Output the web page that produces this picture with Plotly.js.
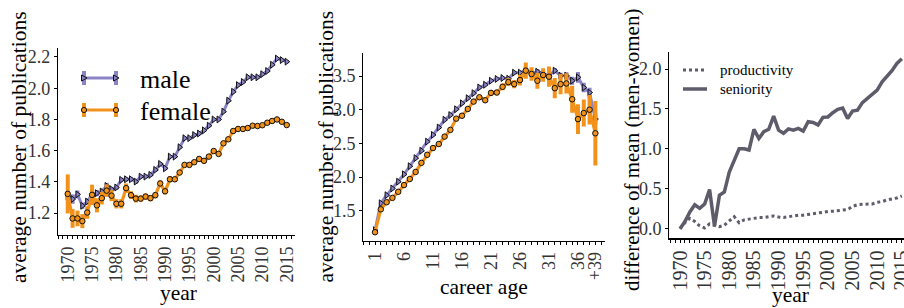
<!DOCTYPE html>
<html><head><meta charset="utf-8">
<script src="https://cdn.plot.ly/plotly-3.0.1.min.js"></script>
<style>html,body{margin:0;padding:0;background:#fff}#chart{width:904px;height:308px}</style>
</head><body><div id="chart"></div>
<script>
// ---------- data ----------
const years = [1970,1971,1972,1973,1974,1975,1976,1977,1978,1979,1980,1981,1982,1983,1984,1985,1986,1987,1988,1989,1990,1991,1992,1993,1994,1995,1996,1997,1998,1999,2000,2001,2002,2003,2004,2005,2006,2007,2008,2009,2010,2011,2012,2013,2014,2015];
const maleByYear = [1.306,1.29,1.32,1.247,1.274,1.32,1.328,1.338,1.374,1.353,1.364,1.413,1.417,1.417,1.402,1.434,1.434,1.445,1.477,1.515,1.487,1.562,1.562,1.622,1.68,1.68,1.70,1.71,1.73,1.76,1.80,1.80,1.85,1.92,1.977,2.02,2.04,2.07,2.07,2.07,2.09,2.11,2.15,2.19,2.18,2.17];
const maleByYearErr = [0.025,0.03,0.025,0.02,0.02,0.02,0.02,0.02,0.02,0.015,0.015,0.015,0.015,0.015,0.015,0.012,0.012,0.012,0.012,0.012,0.012,0.01,0.01,0.01,0.01,0.01,0.01,0.01,0.01,0.01,0.01,0.01,0.01,0.01,0.01,0.01,0.01,0.01,0.01,0.01,0.01,0.01,0.01,0.01,0.01,0.01];
const femaleByYear = [1.323,1.166,1.166,1.149,1.204,1.317,1.25,1.296,1.344,1.312,1.26,1.26,1.36,1.315,1.293,1.293,1.306,1.296,1.315,1.39,1.34,1.417,1.417,1.46,1.509,1.509,1.526,1.547,1.535,1.562,1.598,1.579,1.647,1.673,1.726,1.739,1.739,1.745,1.76,1.758,1.763,1.779,1.79,1.80,1.785,1.764];
const femaleByYearErr = [0.125,0.06,0.05,0.045,0.04,0.065,0.045,0.04,0.04,0.035,0.03,0.03,0.03,0.025,0.025,0.02,0.02,0.02,0.02,0.02,0.02,0.02,0.015,0.015,0.015,0.015,0.015,0.015,0.015,0.015,0.012,0.012,0.012,0.012,0.01,0.01,0.01,0.01,0.01,0.01,0.01,0.01,0.01,0.01,0.01,0.01];

const careerAge = [1,2,3,4,5,6,7,8,9,10,11,12,13,14,15,16,17,18,19,20,21,22,23,24,25,26,27,28,29,30,31,32,33,34,35,36,37,38,39];
const careerTickVals = [1,6,11,16,21,26,31,36,39];
const careerTickText = ['1','6','11','16','21','26','31','36','+39'];
const maleByCareer = [1.21,1.61,1.73,1.83,1.93,2.04,2.16,2.28,2.39,2.525,2.625,2.735,2.85,2.92,3.006,3.095,3.17,3.245,3.33,3.37,3.43,3.457,3.47,3.46,3.55,3.55,3.58,3.54,3.565,3.53,3.51,3.58,3.505,3.505,3.43,3.48,3.33,3.255,2.86];
const maleByCareerErr = [0.01,0.01,0.01,0.01,0.01,0.01,0.01,0.01,0.01,0.01,0.01,0.01,0.01,0.01,0.01,0.012,0.012,0.015,0.015,0.015,0.02,0.02,0.02,0.025,0.025,0.025,0.03,0.03,0.04,0.04,0.04,0.04,0.045,0.05,0.06,0.08,0.07,0.07,0.08];
const femaleByCareer = [1.18,1.52,1.625,1.69,1.78,1.88,1.97,2.075,2.21,2.33,2.43,2.49,2.60,2.70,2.867,2.91,3.01,3.12,3.185,3.14,3.25,3.255,3.34,3.41,3.38,3.44,3.58,3.53,3.43,3.515,3.49,3.32,3.38,3.39,3.155,2.86,2.95,3.0,2.65];
const femaleByCareerErr = [0.02,0.02,0.02,0.02,0.02,0.02,0.02,0.02,0.02,0.02,0.02,0.02,0.02,0.02,0.02,0.03,0.03,0.03,0.03,0.03,0.04,0.04,0.05,0.06,0.06,0.08,0.12,0.1,0.12,0.1,0.15,0.15,0.15,0.15,0.2,0.22,0.2,0.22,0.48];

const productivityDiff = [0.0,0.075,0.13,0.09,0.035,0.01,0.06,0.045,0.025,0.045,0.10,0.15,0.075,0.11,0.12,0.13,0.14,0.14,0.15,0.16,0.146,0.14,0.15,0.16,0.17,0.17,0.18,0.19,0.2,0.21,0.215,0.22,0.225,0.234,0.24,0.28,0.3,0.305,0.305,0.31,0.33,0.34,0.36,0.375,0.385,0.41];
const seniorityDiff = [0.0,0.09,0.21,0.30,0.255,0.31,0.49,0.03,0.42,0.46,0.71,0.86,1.0,1.0,0.985,1.245,1.13,1.215,1.245,1.41,1.235,1.195,1.25,1.235,1.257,1.223,1.34,1.33,1.30,1.395,1.40,1.453,1.495,1.51,1.38,1.474,1.485,1.58,1.633,1.675,1.737,1.84,1.905,1.98,2.07,2.13];

const seriesNames = ['male','female'];
const diffNames = ['productivity','seniority'];
const axisTitles = ['year','average number of publications','career age','average number of publications','year','difference of mean (men-women)'];

// ---------- style ----------
const F = '"Liberation Serif", "Times New Roman", Times, serif';
const PURPLE = '#8a84c6', ORANGE = '#f2921a', GREY = '#5e5c6a';
const W = 904, H = 308;
const px = v => v / W, py = v => 1 - v / H;

function genderTraces(x, m, me, f, fe, xa, ya) {
  return [
    {x, y: m, xaxis: xa, yaxis: ya, type: 'scatter', mode: 'lines+markers', name: seriesNames[0],
     line: {color: PURPLE, width: 3},
     marker: {symbol: 'triangle-right', size: 6, color: PURPLE, line: {color: '#111', width: 1}},
     error_y: {type: 'data', array: me, visible: true, color: PURPLE, thickness: 4, width: 0}},
    {x, y: f, xaxis: xa, yaxis: ya, type: 'scatter', mode: 'lines+markers', name: seriesNames[1],
     line: {color: ORANGE, width: 3.2},
     marker: {symbol: 'circle', size: 5.5, color: ORANGE, line: {color: '#111', width: 1}},
     error_y: {type: 'data', array: fe, visible: true, color: ORANGE, thickness: 4, width: 0}}
  ];
}

const traces = [
  ...genderTraces(years, maleByYear, maleByYearErr, femaleByYear, femaleByYearErr, 'x', 'y'),
  ...genderTraces(careerAge, maleByCareer, maleByCareerErr, femaleByCareer, femaleByCareerErr, 'x2', 'y2'),
  {x: years, y: productivityDiff, xaxis: 'x3', yaxis: 'y3', type: 'scatter', mode: 'lines', name: diffNames[0],
   line: {color: GREY, width: 3, dash: 'dot'}},
  {x: years, y: seniorityDiff, xaxis: 'x3', yaxis: 'y3', type: 'scatter', mode: 'lines', name: diffNames[1],
   line: {color: GREY, width: 3.5}}
];

function ax(extra) {
  return Object.assign({
    showline: true, linecolor: '#000', linewidth: 1.2, showgrid: false, zeroline: false,
    ticks: 'outside', ticklen: 3, tickwidth: 1, tickcolor: '#000', ticklabeloverflow: 'allow',
    tickfont: {family: F, size: 18, color: '#333'}
  }, extra);
}
const minorX = t0 => ({ticks: 'outside', ticklen: 3, tickwidth: 1, tickcolor: '#000', dtick: 1, tick0: t0});

const layout = {
  width: W, height: H, margin: {l: 0, r: 0, t: 0, b: 0},
  paper_bgcolor: '#fff', plot_bgcolor: '#fff', showlegend: false,
  font: {family: F},
  xaxis: ax({domain: [px(58), px(295)], range: [1968.0, 2016.7], anchor: 'y', tickangle: -90,
    tickmode: 'linear', tick0: 1970, dtick: 5, minor: minorX(1970)}),
  yaxis: ax({domain: [1 - 235 / H, 1 - 48 / H], range: [1.06, 2.2575], anchor: 'x',
    tickvals: [1.2, 1.4, 1.6, 1.8, 2.0, 2.2], tickformat: '.1f'}),
  xaxis2: ax({domain: [px(363.3), px(605)], range: [-1.02, 40.66], anchor: 'y2', tickangle: -90,
    tickmode: 'array', tickvals: careerTickVals, ticktext: careerTickText, minor: minorX(0)}),
  yaxis2: ax({domain: [1 - 240.7 / H, 1 - 53 / H], range: [1.054, 3.842], anchor: 'x2',
    tickvals: [1.5, 2.0, 2.5, 3.0, 3.5], tickformat: '.1f'}),
  xaxis3: ax({domain: [px(669.3), 1], range: [1967.83, 2015.44], anchor: 'y3', tickangle: -90,
    tickmode: 'linear', tick0: 1970, dtick: 5, tickfont: {family: F, size: 20, color: '#333'}, minor: minorX(1970)}),
  yaxis3: ax({domain: [1 - 238.3 / H, 1 - 51.7 / H], range: [-0.12, 2.217], anchor: 'x3',
    tickvals: [0, 0.5, 1.0, 1.5, 2.0], tickformat: '.1f'}),
  shapes: [], annotations: []
};

// ---------- axis titles (placed in pixel->paper coords) ----------
function titleAnn(text, xc, yc, angle, size) {
  layout.annotations.push({text, xref: 'paper', yref: 'paper', x: px(xc), y: py(yc), xanchor: 'center', yanchor: 'middle',
    textangle: angle, showarrow: false, font: {family: F, size, color: '#000'}});
}
titleAnn(axisTitles[0], 178, 293, 0, 21.5);
titleAnn(axisTitles[1], 19, 147, -90, 21.5);
titleAnn(axisTitles[2], 484, 287, 0, 21.5);
titleAnn(axisTitles[3], 325, 146.5, -90, 21.5);
titleAnn(axisTitles[4], 790, 295, 0, 21.5);
titleAnn(axisTitles[5], 632, 150, -90, 21);

// ---------- custom legends (glyph decoration, in pixel->paper coords) ----------
function legendRow(y, color, marker, label) {
  const xa = 84, xb = 116;
  layout.shapes.push({type: 'line', xref: 'paper', yref: 'paper', x0: px(xa), x1: px(xb), y0: py(y), y1: py(y), line: {color, width: 3}});
  [xa, xb].forEach(x => {
    layout.shapes.push({type: 'line', xref: 'paper', yref: 'paper', x0: px(x), x1: px(x), y0: py(y - 7), y1: py(y + 7), line: {color, width: 4}});
    if (marker === 'tri') {
      layout.shapes.push({type: 'path', xref: 'paper', yref: 'paper',
        path: `M${px(x - 2.5)},${py(y - 3)} L${px(x + 3)},${py(y)} L${px(x - 2.5)},${py(y + 3)} Z`,
        fillcolor: color, line: {color: '#111', width: 1}});
    } else {
      layout.shapes.push({type: 'circle', xref: 'paper', yref: 'paper', x0: px(x - 2.6), x1: px(x + 2.6), y0: py(y - 2.6), y1: py(y + 2.6),
        fillcolor: color, line: {color: '#111', width: 1}});
    }
  });
  layout.annotations.push({text: label, xref: 'paper', yref: 'paper', x: px(138), y: py(y + 1), xanchor: 'left', yanchor: 'middle',
    showarrow: false, font: {family: F, size: 26, color: '#000'}});
}
legendRow(78, PURPLE, 'tri', seriesNames[0]);
legendRow(110, ORANGE, 'circ', seriesNames[1]);

function legendRow3(y, dash, width, label) {
  layout.shapes.push({type: 'line', xref: 'paper', yref: 'paper', x0: px(683), x1: px(707), y0: py(y), y1: py(y), line: {color: GREY, width, dash}});
  layout.annotations.push({text: label, xref: 'paper', yref: 'paper', x: px(718), y: py(y), xanchor: 'left', yanchor: 'middle',
    showarrow: false, font: {family: F, size: 15, color: '#000'}});
}
legendRow3(70, 'dot', 3, diffNames[0]);
legendRow3(89, 'solid', 3.5, diffNames[1]);

Plotly.newPlot('chart', traces, layout, {displayModeBar: false, staticPlot: true});
</script>
</body></html>
